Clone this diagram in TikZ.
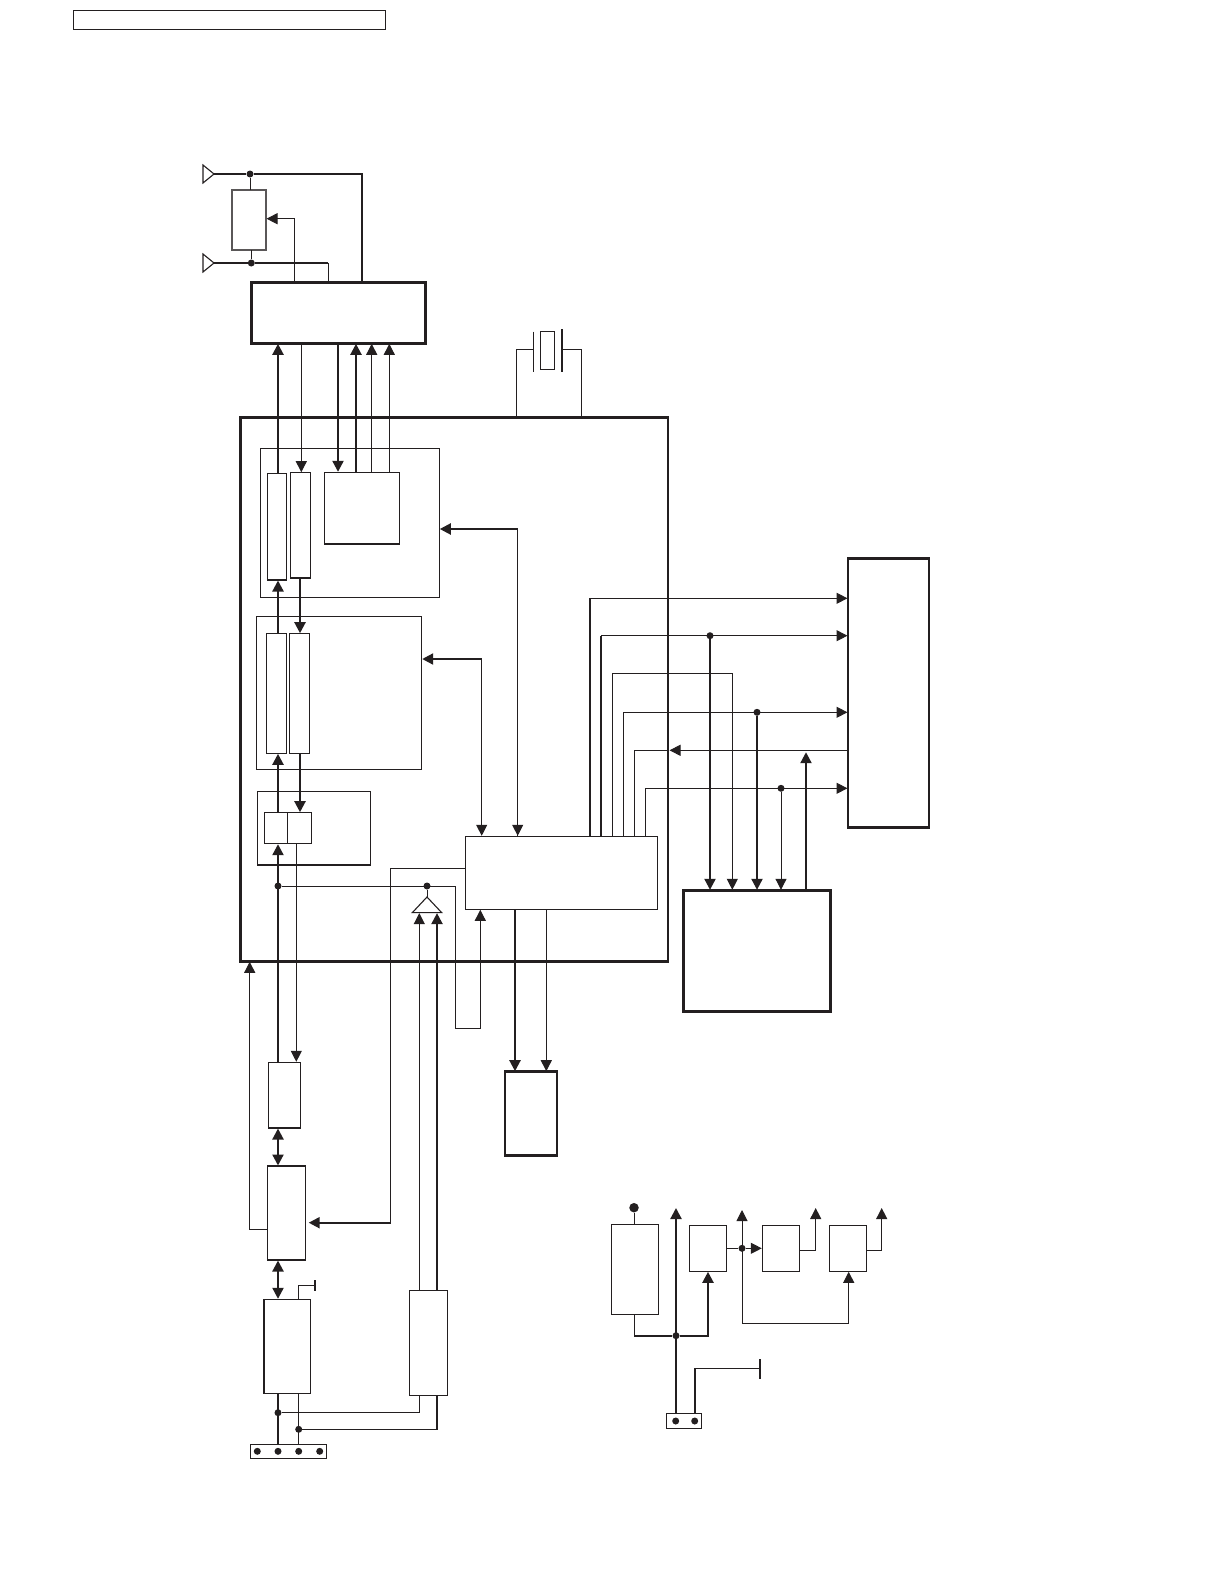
\documentclass[tikz,border=0pt]{standalone}
\usetikzlibrary{arrows.meta,shapes.geometric}
\definecolor{ink}{RGB}{35,31,32}
\begin{document}
\begin{tikzpicture}[
  x=1pt, y=-1pt, color=ink,
  blk/.style={draw, rectangle, anchor=north west, inner sep=0pt, outer sep=0pt, line width=1.1pt},
  midblk/.style={blk, line width=1.5pt},
  heavyblk/.style={blk, line width=2.8pt},
  dot/.style={circle, fill, inner sep=0pt, minimum size=7pt},
  thinw/.style={line width=1pt},
  midw/.style={line width=1.5pt},
  thickw/.style={line width=2.2pt},
  arr/.style={-{Triangle[length=11pt,width=11pt]}, shorten >=0.5pt},
  dbl/.style={{Triangle[length=11pt,width=11pt]}-{Triangle[length=11pt,width=11pt]}, shorten >=0.5pt, shorten <=0.5pt},
  ant/.style={draw, isosceles triangle, isosceles triangle stretches, inner sep=0pt, outer sep=0pt, line width=1.1pt}
]
\useasboundingbox (0,0) rectangle (1224,1584);

% page tag
\node[blk, minimum width=312.4pt, minimum height=19.4pt] (tag) at (73.3,10.3) {};

% antennas and rf part
\node[ant, anchor=apex, minimum width=18pt, minimum height=11pt] (anta) at (214,174) {};
\node[ant, anchor=apex, minimum width=18pt, minimum height=11pt] (antb) at (214,263) {};
\node[blk, draw=ink!75, minimum width=34pt, minimum height=60pt] (atten) at (232,190) {};
\node[heavyblk, minimum width=174.4pt, minimum height=61pt] (rf) at (251.3,282.3) {};
\node[dot] (da) at (250,174) {};
\node[dot] (db) at (251.3,263) {};

% crystal
\node[midblk, minimum width=14pt, minimum height=37.6pt] (xtal) at (540.7,331.7) {};
\coordinate (platel) at (533.3,349.3);
\coordinate (plater) at (562,349.3);
\draw[midw] (platel) ++(0,-17.6) -- ++(0,40);
\draw[thickw] (plater) ++(0,-20.3) -- ++(0,42.7);

% main lsi and its blocks
\node[heavyblk, minimum width=427.7pt, minimum height=544pt] (lsi) at (240.3,417.3) {};
\node[blk, minimum width=178.6pt, minimum height=149pt] (codec) at (260.7,448.3) {};
\node[blk, minimum width=19.4pt, minimum height=106.7pt] (slota) at (267.3,473.3) {};
\node[midblk, minimum width=19.6pt, minimum height=105.3pt] (slotb) at (290.7,472.7) {};
\node[blk, minimum width=75.4pt, minimum height=71.7pt] (iface) at (324.3,472.3) {};
\node[blk, minimum width=165pt, minimum height=152.6pt] (dsp) at (256.7,616.7) {};
\node[blk, minimum width=20pt, minimum height=120pt] (slotd) at (266.3,633.3) {};
\node[blk, minimum width=20pt, minimum height=119.6pt] (slote) at (289.3,633.7) {};
\node[blk, minimum width=113pt, minimum height=73.3pt] (adda) at (257.3,791.7) {};
\node[blk, minimum width=23.4pt, minimum height=31pt] (slotf) at (264.3,812.7) {};
\node[blk, minimum width=23.6pt, minimum height=31pt] (slotg) at (287.7,812.7) {};
\node[blk, minimum width=192pt, minimum height=73pt] (mcu) at (465.7,836.3) {};
\node[blk, isosceles triangle, isosceles triangle stretches, shape border rotate=90, anchor=apex, minimum width=29.3pt, minimum height=15.6pt] (amp) at (427,897) {};
\draw[midw] (dsp.north west) -- (dsp.north east);
\draw[midw] (mcu.north west) -- (mcu.south west);
\draw[midw] (slotf.north east) -- (slotf.south east);

% outer blocks
\node[heavyblk, minimum width=81pt, minimum height=268.6pt] (lcd) at (848,558.7) {};
\node[heavyblk, minimum width=147.4pt, minimum height=121pt] (dac) at (683.3,890.3) {};
\node[heavyblk, minimum width=52pt, minimum height=84pt] (disp) at (505,1071.7) {};
\node[blk, minimum width=32.4pt, minimum height=65.7pt] (saw) at (268.3,1062.3) {};
\node[blk, minimum width=38.4pt, minimum height=94pt] (conv) at (267.3,1166) {};
\node[blk, minimum width=46.7pt, minimum height=94.4pt] (tuner) at (264,1299.3) {};
\node[blk, minimum width=38pt, minimum height=105pt] (buf) at (409.3,1290.3) {};
\node[blk, minimum width=76pt, minimum height=14pt] (jack) at (250.3,1444.3) {};
\node[dot] (ja) at (257.3,1451.3) {};
\node[dot] (jb) at (278,1451.3) {};
\node[dot] (jc) at (298.7,1451.3) {};
\node[dot] (jd) at (319.7,1451.3) {};
\draw[midw] (tuner.north west) -- (tuner.south west) -- (tuner.south east);
\draw[midw] (buf.north east) -- (buf.south east);

% power part
\node[blk, minimum width=47pt, minimum height=90pt] (reg) at (611.7,1224.3) {};
\node[blk, minimum width=37pt, minimum height=46pt] (rega) at (689.3,1225.3) {};
\node[blk, minimum width=37.4pt, minimum height=46pt] (regb) at (762.3,1225.3) {};
\node[blk, minimum width=37.4pt, minimum height=46pt] (regc) at (829.3,1225.3) {};
\node[midblk, minimum width=34.6pt, minimum height=15pt] (plug) at (666.7,1413.3) {};
\node[dot] (pa) at (675.7,1421) {};
\node[dot] (pb) at (694.7,1421) {};
\node[dot, minimum size=9.5pt] (vin) at (634,1207.7) {};
\draw[midw] (reg.north west) -- (reg.south west);
\draw[midw] (rega.north east) -- (rega.south east);

% columns and bends
\coordinate (ca) at (278,0);
\coordinate (cb) at (301.3,0);
\coordinate (cc) at (338,0);
\coordinate (cd) at (356,0);
\coordinate (ce) at (371.7,0);
\coordinate (cf) at (389.3,0);
\coordinate (cg) at (300,0);
\coordinate (ch) at (296.3,0);
\coordinate (ci) at (419.3,0);
\coordinate (cj) at (437,0);
\coordinate (mcua) at (515,0);
\coordinate (mcub) at (546.3,0);
\coordinate (ra) at (362,174);
\coordinate (rb) at (328,263);
\coordinate (rc) at (294.7,218.7);
\coordinate (xl) at (516.7,416.7);
\coordinate (xr) at (581.3,416.7);
\coordinate (ba) at (517.7,529);
\coordinate (bb) at (481.7,659);
\coordinate (pp) at (590,598.3);
\coordinate (pq) at (601,635.7);
\coordinate (pr) at (612.3,673.3);
\coordinate (prr) at (732.3,673.3);
\coordinate (ps) at (623.3,712.3);
\coordinate (pt) at (634.3,750.3);
\coordinate (ptr) at (669,750.3);
\coordinate (pu) at (645.3,788.3);
\coordinate (up) at (806,751.7);

% rf wiring
\draw[midw] (anta.apex) -- (da);
\draw[thickw] (da) -| (rf.north -| ra);
\draw[thinw] (da) -- (atten.north -| da);
\draw[midw] (antb.apex) -- (db);
\draw[midw] (db) -- (rb);
\draw[thinw] (rb) -- (rf.north -| rb);
\draw[thinw] (db) -- (atten.south -| db);
\draw[thinw,arr] (rf.north -| rc) |- (atten.east |- rc);

\draw[thickw,arr] (slota.north -| ca) -- (rf.south -| ca);
\draw[thinw,arr] (rf.south -| cb) -- (slotb.north -| cb);
\draw[thickw,arr] (rf.south -| cc) -- (iface.north -| cc);
\draw[thickw,arr] (iface.north -| cd) -- (rf.south -| cd);
\draw[thinw,arr] (iface.north -| ce) -- (rf.south -| ce);
\draw[thinw,arr] (iface.north -| cf) -- (rf.south -| cf);

\draw[thinw] (platel) -| (xl);
\draw[thinw] (plater) -| (xr);

% chain on the left
\draw[thickw,arr] (slotd.north -| ca) -- (slota.south -| ca);
\draw[thickw,arr] (slotf.north -| ca) -- (slotd.south -| ca);
\draw[thickw,arr] (saw.north -| ca) -- (slotf.south -| ca);
\draw[thickw,arr] (slotb.south -| cg) -- (slote.north -| cg);
\draw[thickw,arr] (slote.south -| cg) -- (slotg.north -| cg);
\draw[thinw,arr] (slotg.south -| ch) -- (saw.north -| ch);
\draw[thickw,dbl] (saw.south -| ca) -- (conv.north -| ca);
\draw[thickw,dbl] (conv.south -| ca) -- (tuner.north -| ca);

% mcu control lines
\draw[thinw] (ba) -- (mcu.north -| ba);
\draw[thinw,arr] (ba) -- (mcu.north -| ba);
\draw[thickw,arr] (ba) -- (codec.east |- ba);
\draw[thickw,arr] (bb) -- (dsp.east |- bb);
\draw[thinw,arr] (bb) -- (mcu.north -| bb);

\node[dot] (df) at (278,886) {};
\node[dot] (dg) at (427,886) {};
\coordinate (loopa) at (455.3,1028.7);
\coordinate (loopb) at (480.3,1028.7);
\draw[thinw] (df) -| (loopa);
\draw[midw] (loopa) -- (loopb);
\draw[thinw,arr] (loopb) -- (mcu.south -| loopb);
\draw[thinw] (dg) -- (amp.apex);

\coordinate (sela) at (390.7,868.3);
\coordinate (selb) at (390.7,1222.7);
\coordinate (vrt) at (249.7,1229.3);
\draw[thinw] (mcu.west |- sela) -- (sela) -- (selb);
\draw[thickw,arr] (selb) -- ([xshift=2.5pt]conv.east |- selb);
\draw[thinw,arr] (conv.west |- vrt) -| (lsi.south -| vrt);

\draw[thickw,arr] (mcu.south -| mcua) -- (disp.north -| mcua);
\draw[thinw,arr] (mcu.south -| mcub) -- (disp.north -| mcub);

\draw[thinw,arr] (buf.north -| ci) -- (amp.south -| ci);
\draw[thickw,arr] (buf.north -| cj) -- (amp.south -| cj);

% tuner and jack
\coordinate (stub) at (298.7,1285.3);
\coordinate (stube) at (315,1285.3);
\draw[thinw] (tuner.north -| stub) -- (stub) -- (stube);
\draw[thickw] (stube) ++(0,-5.3) -- ++(0,10.7);
\draw[thickw] (tuner.south -| ca) -- (jack.north -| ca);
\draw[thinw] (tuner.south -| jc) -- (jack.north -| jc);
\node[dot] (dh) at (278,1412.7) {};
\node[dot] (di) at (298.7,1429.3) {};
\draw[thinw] (dh) -| (buf.south -| ci);
\draw[midw] (di) -| (buf.south -| cj);

% outputs to lcd and dac
\draw[midw] (mcu.north -| pp) |- (pp);
\draw[thinw,arr] (pp) -- (lcd.west |- pp);
\draw[midw] (mcu.north -| pq) -- (pq);
\draw[thinw,arr] (pq) -- (lcd.west |- pq);
\draw[thinw] (mcu.north -| pr) |- (prr);
\draw[thinw,arr] (prr) -- (dac.north -| prr);
\draw[thinw] (mcu.north -| ps) -- (ps);
\draw[thinw,arr] (ps) -- (lcd.west |- ps);
\draw[thinw] (mcu.north -| pt) |- (ptr);
\draw[thinw,arr] (lcd.west |- pt) -- (ptr);
\draw[thinw,arr] (mcu.north -| pu) |- (lcd.west |- pu);
\node[dot] (dj) at (710,635.7) {};
\node[dot] (dk) at (757,712.3) {};
\node[dot] (dl) at (781,788.3) {};
\draw[thickw,arr] (dj) -- (dac.north -| dj);
\draw[thickw,arr] (dk) -- (dac.north -| dk);
\draw[thinw,arr] (dl) -- (dac.north -| dl);
\draw[thickw,arr] (dac.north -| up) -- (up);

% power wiring
\coordinate (outa) at (676,1207.5);
\coordinate (outb) at (742,1209.5);
\coordinate (outc) at (815.7,1207.5);
\coordinate (outd) at (881.7,1207.5);
\coordinate (fbb) at (742,1323.3);
\coordinate (bus) at (634,1335.7);
\coordinate (tail) at (760,1368.3);
\coordinate (tailb) at (695,1368.3);
\coordinate (rise) at (708,1335.7);
\coordinate (risec) at (848.7,1323.3);
\coordinate (lvl) at (800,1250.3);
\node[dot] (dm) at (676,1335.7) {};
\node[dot] (dn) at (742,1248.3) {};
\draw[thinw] (vin) -- (reg.north -| vin);
\draw[thinw] (reg.south -| vin) -- (bus);
\draw[thickw] (bus) -- (dm);
\draw[thickw,arr] (dm) -| (rega.south -| rise);
\draw[thickw,arr] (plug.north -| dm) -- (outa);
\draw[thinw] (rega.east |- dn) -- (dn);
\draw[thinw,arr] (dn) -- (regb.west |- dn);
\draw[thinw,arr] (fbb) -- (outb);
\draw[thinw] (fbb) -- (risec);
\draw[thinw,arr] (risec) -- (regc.south -| risec);
\draw[thinw,arr] (regb.east |- lvl) -| (outc);
\draw[thinw,arr] (regc.east |- lvl) -| (outd);
\draw[midw] (plug.north -| tailb) -- (tailb);
\draw[thinw] (tailb) -- (tail);
\draw[thickw] (tail) ++(0,-9.3) -- ++(0,19.7);
\end{tikzpicture}
\end{document}
